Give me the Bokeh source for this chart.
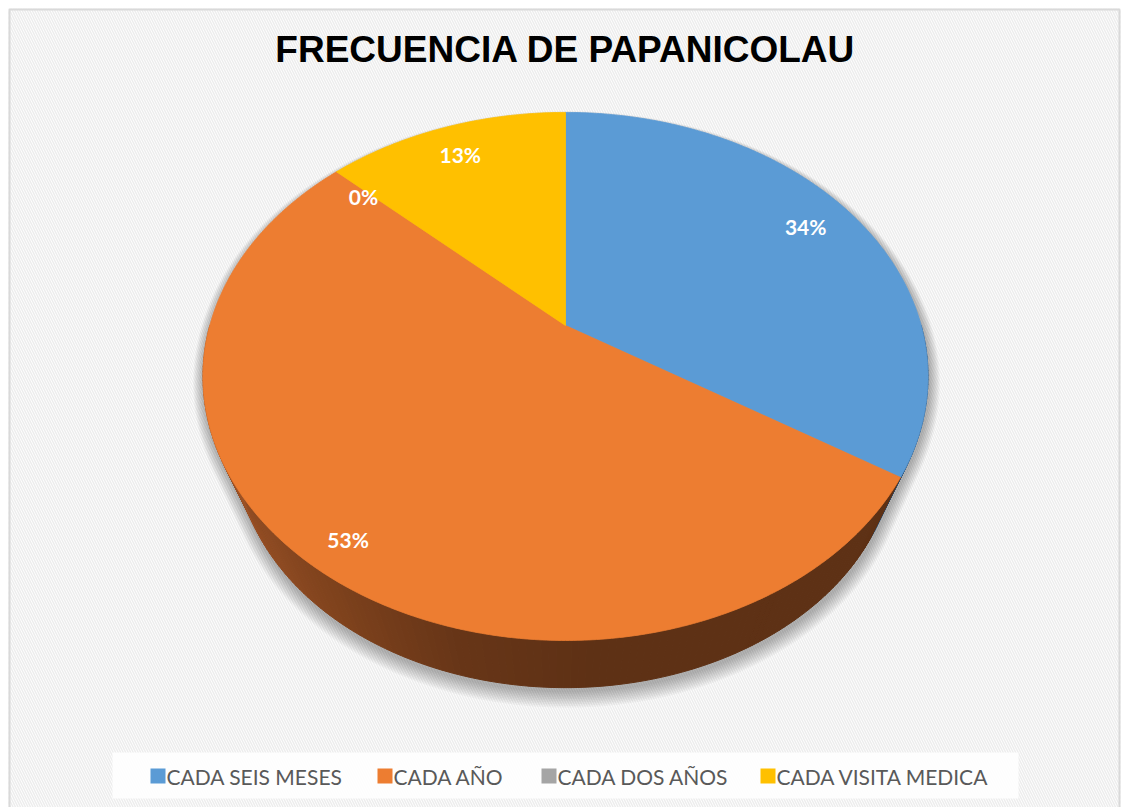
import numpy as np
from bokeh.plotting import figure
from bokeh.models import Range1d
from bokeh.core.properties import value
from bokeh.embed import file_html
from bokeh.resources import INLINE

# ---------------- data ----------------
title = "FRECUENCIA DE PAPANICOLAU"
categories = ["CADA SEIS MESES", "CADA AÑO", "CADA DOS AÑOS", "CADA VISITA MEDICA"]
percentages = [34, 53, 0, 13]
colors = ["#5B9BD5", "#ED7D31", "#A5A5A5", "#FFC000"]

# ---------------- layout ----------------
W, H = 1121, 807
p = figure(width=W, height=H, x_range=Range1d(0, W), y_range=Range1d(H, 0),
           output_backend="svg", toolbar_location=None, min_border=0)
p.axis.visible = False
p.grid.visible = False
p.outline_line_color = None
p.background_fill_color = "white"
p.border_fill_color = "white"

# chart area (hatched) and border
p.quad(left=[8], right=[1120], top=[8], bottom=[H], fill_color="white",
       line_color=None, hatch_pattern="\\", hatch_color="#EDEDED", hatch_scale=5, hatch_weight=1.5)
p.line(x=[9, 9, 1119, 1119], y=[H, 9, 9, H], line_color="#D9D9D9", line_width=2)

# perspective pie geometry
CX, CY, A, B, K = 565.0, 325.0, 355.7, 254.2, 0.193
VPX, VPY, T = 565.0, 1156.0, 0.0914   # vanishing point of the side walls


def proj(theta_deg, r=1.0):
    t = np.radians(theta_deg)
    u = r * np.sin(t)
    v = r * np.cos(t)
    w = 1 + K * v
    return CX + A * u / w, CY - B * v / w


def proj_bottom(theta_deg):
    x, y = proj(theta_deg)
    return x + (VPX - x) * T, y + (VPY - y) * T


total = float(sum(percentages))
bounds = [0.0]
for val in percentages:
    bounds.append(bounds[-1] + 360.0 * val / total)

# ---------- shadow ----------
ang = np.arange(0, 360, 1.0)
tx, ty = proj(ang)
bx, by = proj_bottom(ang)
pts = np.vstack([np.column_stack([tx, ty]), np.column_stack([bx, by])])


def hull(points):
    pts_ = sorted(map(tuple, points))

    def cross(o, a, b):
        return (a[0] - o[0]) * (b[1] - o[1]) - (a[1] - o[1]) * (b[0] - o[0])
    lower, upper = [], []
    for pt in pts_:
        while len(lower) >= 2 and cross(lower[-2], lower[-1], pt) <= 0:
            lower.pop()
        lower.append(pt)
    for pt in reversed(pts_):
        while len(upper) >= 2 and cross(upper[-2], upper[-1], pt) <= 0:
            upper.pop()
        upper.append(pt)
    return np.array(lower[:-1] + upper[:-1])


hl = hull(pts)
cen = hl.mean(axis=0)
dvec = hl - cen
nrm = dvec / np.linalg.norm(dvec, axis=1)[:, None]
weight = 0.25 + 0.75 * (nrm[:, 1] + 1) / 2
sh_xs, sh_ys = [], []
for s in np.arange(17, 0, -1.7):
    e = hl + nrm * (s * weight)[:, None]
    sh_xs.append(list(e[:, 0] + 1))
    sh_ys.append(list(e[:, 1] + 3))
p.patches(xs=sh_xs, ys=sh_ys, fill_color="black", fill_alpha=0.03, line_color=None)

# ---------- side walls ----------
orange_stops = [(90, (94, 49, 21)), (175, (94, 49, 21)), (195, (104, 54, 24)),
                (215, (128, 67, 29)), (240, (152, 80, 38)), (270, (172, 94, 46))]
blue_side = (44, 80, 116)


def side_color(theta, i):
    if i == 0:
        r, g, b = blue_side
    elif i == 1:
        th = [s[0] for s in orange_stops]
        r = np.interp(theta, th, [s[1][0] for s in orange_stops])
        g = np.interp(theta, th, [s[1][1] for s in orange_stops])
        b = np.interp(theta, th, [s[1][2] for s in orange_stops])
    else:
        r, g, b = (90, 90, 90)
    return "#%02x%02x%02x" % (int(r), int(g), int(b))


side_xs, side_ys, side_cols = [], [], []
VIS_A, VIS_B = 90.0, 270.0
for i in range(len(percentages)):
    a1, a2 = max(bounds[i], VIS_A), min(bounds[i + 1], VIS_B)
    if a2 <= a1:
        continue
    steps = np.linspace(a1, a2, int(np.ceil((a2 - a1) / 1.0)) + 1)
    for ta, tb in zip(steps[:-1], steps[1:]):
        x1, y1 = proj(ta)
        x2, y2 = proj(tb)
        x3, y3 = proj_bottom(tb)
        x4, y4 = proj_bottom(ta)
        side_xs.append([x1, x2, x3, x4])
        side_ys.append([y1, y2, y3, y4])
        side_cols.append(side_color(0.5 * (ta + tb), i))
p.patches(xs=side_xs, ys=side_ys, fill_color=side_cols, line_color=side_cols, line_width=1)

# ---------- top faces ----------
top_xs, top_ys, top_cols = [], [], []
for i in range(len(percentages)):
    a1, a2 = bounds[i], bounds[i + 1]
    if a2 - a1 <= 0:
        continue
    arc = np.linspace(a1, a2, max(int((a2 - a1) / 0.5), 2) + 1)
    ax_, ay_ = proj(arc)
    top_xs.append([CX] + list(ax_))
    top_ys.append([CY] + list(ay_))
    top_cols.append(colors[i])
p.patches(xs=top_xs, ys=top_ys, fill_color=top_cols, line_color=top_cols, line_width=0.8)

# ---------- data labels ----------
label_r = [0.83, 0.90, 0.83, 0.83]
label_nudge = [(0, -2), (10, 7), (-8, 4), (-3, 1)]
lx, ly, lt = [], [], []
for i, val in enumerate(percentages):
    mid = 0.5 * (bounds[i] + bounds[i + 1])
    x, y = proj(mid, r=label_r[i])
    lx.append(x + label_nudge[i][0])
    ly.append(y - 3 + label_nudge[i][1])
    lt.append(f"{val}%")
p.text(x=lx, y=ly, text=lt, text_color="white", text_font=value("Lato"),
       text_font_style="bold", text_font_size="21px", text_align="center", text_baseline="middle")

# ---------- title ----------
p.text(x=[565], y=[49], text=[title], text_color="black", text_font=value("Liberation Sans"),
       text_font_style="bold", text_font_size="37px", text_align="center", text_baseline="middle")

# ---------- legend ----------
p.quad(left=[112], right=[1018], top=[752], bottom=[798], fill_color="white", fill_alpha=0.85,
       line_color=None)
sq_x = [150, 377, 541, 760]
SQ = 15
p.rect(x=[x + SQ / 2 for x in sq_x], y=[775.5] * 4, width=SQ, height=SQ, fill_color=colors,
       line_color=None)
p.text(x=[x + SQ + 1 for x in sq_x], y=[776] * 4, text=categories, text_color="#595959",
       text_font=value("Lato"), text_font_size="21px",
       text_align="left", text_baseline="middle")

open("out.html", "w").write(file_html(p, INLINE))
